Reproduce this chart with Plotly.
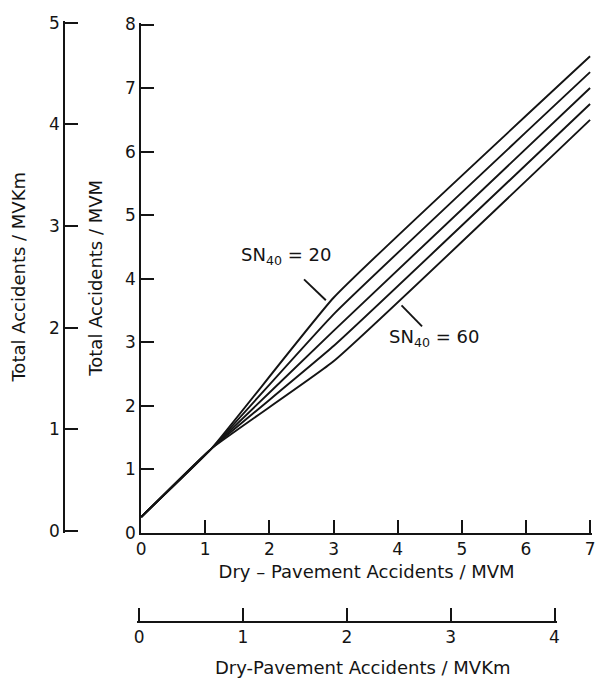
import plotly.graph_objects as go

# Dry-pavement accident rate (accidents per million vehicle miles)
dry_mvm = [0.0, 1.1, 3.0, 7.0]

# Total accident rate for each skid number SN40 (accidents per MVM)
sn40_levels = [20, 30, 40, 50, 60]
total_sn20 = [0.25, 1.33, 3.70, 7.50]
total_sn30 = [0.25, 1.33, 3.44, 7.25]
total_sn40 = [0.25, 1.33, 3.18, 7.00]
total_sn50 = [0.25, 1.33, 2.94, 6.75]
total_sn60 = [0.25, 1.33, 2.70, 6.50]
total_series = [total_sn20, total_sn30, total_sn40, total_sn50, total_sn60]

# Tick values for the four scales
mvm_x_ticks = [0, 1, 2, 3, 4, 5, 6, 7]
mvm_y_ticks = [0, 1, 2, 3, 4, 5, 6, 7, 8]
mvkm_y_ticks = [0, 1, 2, 3, 4, 5]
mvkm_x_ticks = [0, 1, 2, 3, 4]

W, H = 595, 688
FONT = "DejaVu Sans"
INK = "#141414"
TITLE_SIZE = 18

fig = go.Figure()

for level, ys in zip(sn40_levels, total_series):
    fig.add_trace(go.Scatter(
        x=dry_mvm, y=ys, mode="lines", name=f"SN40 = {level}",
        line=dict(color=INK, width=1.9, shape="spline", smoothing=0.35),
        hoverinfo="skip", showlegend=False,
    ))

# empty traces so the metric scales get their own subplots
fig.add_trace(go.Scatter(x=[], y=[], xaxis="x", yaxis="y2", showlegend=False))
fig.add_trace(go.Scatter(x=[], y=[], xaxis="x2", yaxis="y", showlegend=False))

axis_common = dict(
    showline=True, linecolor=INK, linewidth=2,
    ticks="inside", ticklen=13, tickwidth=2, tickcolor=INK,
    showgrid=False, zeroline=False,
    tickfont=dict(family=FONT, size=17, color=INK),
    title_font=dict(family=FONT, size=TITLE_SIZE, color=INK),
)

fig.update_layout(
    width=W, height=H,
    margin=dict(l=0, r=0, t=0, b=0),
    paper_bgcolor="white", plot_bgcolor="rgba(0,0,0,0)",
    showlegend=False,
    xaxis=dict(
        **axis_common,
        domain=[138 / W, 1.0], range=[0, 7.03],
        tickvals=mvm_x_ticks, anchor="y", ticklabeloverflow="allow",
        title=dict(text="Dry – Pavement Accidents / MVM", standoff=7),
    ),
    yaxis=dict(
        **axis_common,
        domain=[(H - 539) / H, (H - 15) / H], range=[0, 8.03],
        tickvals=mvm_y_ticks, anchor="x",
        title=dict(text="Total Accidents / MVM", standoff=18),
    ),
    yaxis2=dict(
        **axis_common,
        domain=[(H - 539.1) / H, (H - 12.9) / H], range=[-0.02, 5.02],
        tickvals=mvkm_y_ticks, anchor="free", position=60 / W, side="left",
        title=dict(text="Total Accidents / MVKm", standoff=18),
    ),
    xaxis2=dict(
        **axis_common,
        domain=[133.9 / W, 559.1 / W], range=[-0.02, 4.02],
        tickvals=mvkm_x_ticks, anchor="free", position=(H - 630) / H,
    ),
)

# title of the metric dry-pavement scale
fig.add_annotation(
    xref="paper", yref="paper", x=363 / W, y=(H - 677) / H,
    text="Dry-Pavement Accidents / MVKm", showarrow=False,
    font=dict(family=FONT, size=TITLE_SIZE, color=INK),
    xanchor="center", yanchor="middle",
)

# curve labels with leader lines
fig.add_annotation(
    xref="x", yref="y", x=1.52, y=4.35, xanchor="left", yanchor="middle",
    text="SN<sub>40</sub> = 20", showarrow=False,
    font=dict(family=FONT, size=18, color=INK),
)
fig.add_annotation(
    xref="x", yref="y", x=3.83, y=3.06, xanchor="left", yanchor="middle",
    text="SN<sub>40</sub> = 60", showarrow=False,
    font=dict(family=FONT, size=18, color=INK),
)
fig.add_shape(type="line", xref="x", yref="y", x0=2.54, y0=3.99, x1=2.88, y1=3.66,
              line=dict(color=INK, width=1.9))
fig.add_shape(type="line", xref="x", yref="y", x0=4.06, y0=3.58, x1=4.38, y1=3.25,
              line=dict(color=INK, width=1.9))

fig.write_html("out.html")
